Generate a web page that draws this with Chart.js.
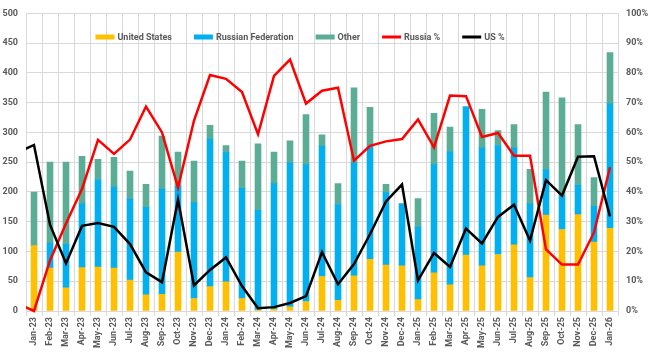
<!DOCTYPE html>
<html><head><meta charset="utf-8">
<script src="https://cdn.jsdelivr.net/npm/chart.js@4.4.1/dist/chart.umd.min.js"></script>
<style>html,body{margin:0;padding:0;background:#fff}</style>
</head><body>
<canvas id="c" width="649" height="359"></canvas>
<script>
const categories = ['Jan-23','Feb-23','Mar-23','Apr-23','May-23','Jun-23','Jul-23','Aug-23','Sep-23','Oct-23','Nov-23','Dec-23',
  'Jan-24','Feb-24','Mar-24','Apr-24','May-24','Jun-24','Jul-24','Aug-24','Sep-24','Oct-24','Nov-24','Dec-24',
  'Jan-25','Feb-25','Mar-25','Apr-25','May-25','Jun-25','Jul-25','Aug-25','Sep-25','Oct-25','Nov-25','Dec-25','Jan-26'];
const unitedStates      = [110,72,39,73,74,72,52,27,28,99,21,41, 49,21,2,3,7,16,58,18,59,87,77,76, 19,64,44,94,76,95,111,56,161,137,162,116,139];
const russianFederation = [0,42,73,107,147,136,136,147,177,110,161,248, 217,185,167,211,242,230,219,161,190,189,122,104, 122,182,224,249,198,183,163,124,76,57,49,60,209];
const other             = [90,136,138,80,34,50,47,39,89,58,70,23, 12,46,112,53,37,84,19,35,126,66,14,0, 48,86,41,0,65,25,39,58,131,164,102,48,86];
const russiaPct = [0,17,29.4,41,57.5,52.8,57.6,68.7,60,41.5,64,79.3, 78,73.6,59.4,79,84.5,69.7,74,75,50.5,55.5,57,57.8, 64.4,55,72.4,72.2,58.5,59.8,52.2,52.2,20.7,15.6,15.6,26.4,48.3];
const usPct     = [55.8,29,16,28.6,29.6,28.3,22.5,13,9.7,37.4,8.6,13.8, 18,8.4,0.9,1.3,2.7,5,19.8,9,15.8,25.8,36.8,42.5, 10.3,19.5,14.8,27.7,22.7,31.6,35.7,23.7,44,38.8,51.8,52,31.8];
// the percentage lines begin from a point one month before the first category (clipped at the plot edge)
const leadInLabel = 'Dec-22';
const russiaPctLeadIn = 2.5;
const usPctLeadIn = 53.3;
const yTicksLeft = {min: 0, max: 500, step: 50};
const yTicksRight = {min: 0, max: 100, step: 10};

const TXT = '#595959';
const GRID = '#D9D9D9';
const FONT = {family: 'Roboto', size: 9, weight: 'bold'};

const labels = [leadInLabel, ...categories];
const pad = arr => [null, ...arr];

const legendPlugin = {
  id: 'customLegend',
  afterDraw(chart) {
    const ctx = chart.ctx;
    const items = chart.data.datasets;
    ctx.save();
    ctx.font = 'bold 9px Roboto';
    const markerW = 19, markerGap = 3, itemGap = 22;
    const widths = items.map(ds => markerW + markerGap + ctx.measureText(ds.label).width);
    const total = widths.reduce((a, b) => a + b, 0) + itemGap * (items.length - 1);
    let x = 300 - total / 2;
    const y = 37;
    items.forEach((ds, k) => {
      const isLine = ds.type === 'line';
      const h = isLine ? 3 : 5;
      ctx.fillStyle = isLine ? ds.borderColor : ds.backgroundColor;
      ctx.fillRect(x, y - h / 2, markerW, h);
      ctx.fillStyle = TXT;
      ctx.textBaseline = 'middle';
      ctx.textAlign = 'left';
      ctx.fillText(ds.label, x + markerW + markerGap, y + 0.5);
      x += widths[k] + itemGap;
    });
    ctx.restore();
  }
};

const lineClip = {left: 0, right: 5, top: 5, bottom: 5};

new Chart(document.getElementById('c'), {
  data: {
    labels,
    datasets: [
      {type: 'bar', label: 'United States', data: pad(unitedStates), backgroundColor: '#FFC000', yAxisID: 'y', order: 2, barThickness: 6},
      {type: 'bar', label: 'Russian Federation', data: pad(russianFederation), backgroundColor: '#00B0F0', yAxisID: 'y', order: 2, barThickness: 6},
      {type: 'bar', label: 'Other', data: pad(other), backgroundColor: '#5BAE95', yAxisID: 'y', order: 2, barThickness: 6},
      {type: 'line', label: 'Russia %', data: [russiaPctLeadIn, ...russiaPct], borderColor: '#FF0000', backgroundColor: '#FF0000', borderWidth: 2.5, pointRadius: 0, tension: 0, yAxisID: 'y1', order: 1, clip: lineClip},
      {type: 'line', label: 'US %', data: [usPctLeadIn, ...usPct], borderColor: '#000000', backgroundColor: '#000000', borderWidth: 2.5, pointRadius: 0, tension: 0, yAxisID: 'y1', order: 0, clip: lineClip}
    ]
  },
  options: {
    responsive: false,
    animation: false,
    devicePixelRatio: 1,
    layout: {padding: {top: 10, left: 0, right: 0, bottom: 0}},
    plugins: {legend: {display: false}, tooltip: {enabled: false}},
    scales: {
      x: {
        type: 'category', min: categories[0], stacked: true, offset: true,
        grid: {color: GRID, offset: true, drawTicks: true, tickLength: 5, tickColor: GRID},
        border: {color: GRID},
        ticks: {minRotation: 90, maxRotation: 90, autoSkip: false, padding: 1, color: TXT, font: FONT},
        afterFit: s => { s.height = 48; }
      },
      y: {
        position: 'left', stacked: true, min: yTicksLeft.min, max: yTicksLeft.max,
        grid: {color: GRID, drawTicks: false},
        border: {display: false},
        ticks: {stepSize: yTicksLeft.step, padding: 8, color: TXT, font: FONT},
        afterFit: s => { s.width = 26; }
      },
      y1: {
        position: 'right', min: yTicksRight.min, max: yTicksRight.max,
        grid: {drawOnChartArea: false, drawTicks: false},
        border: {display: false},
        ticks: {stepSize: yTicksRight.step, padding: 8, color: TXT, font: FONT, callback: v => v + '%'},
        afterFit: s => { s.width = 31; }
      }
    }
  },
  plugins: [legendPlugin]
});
</script>
</body></html>
